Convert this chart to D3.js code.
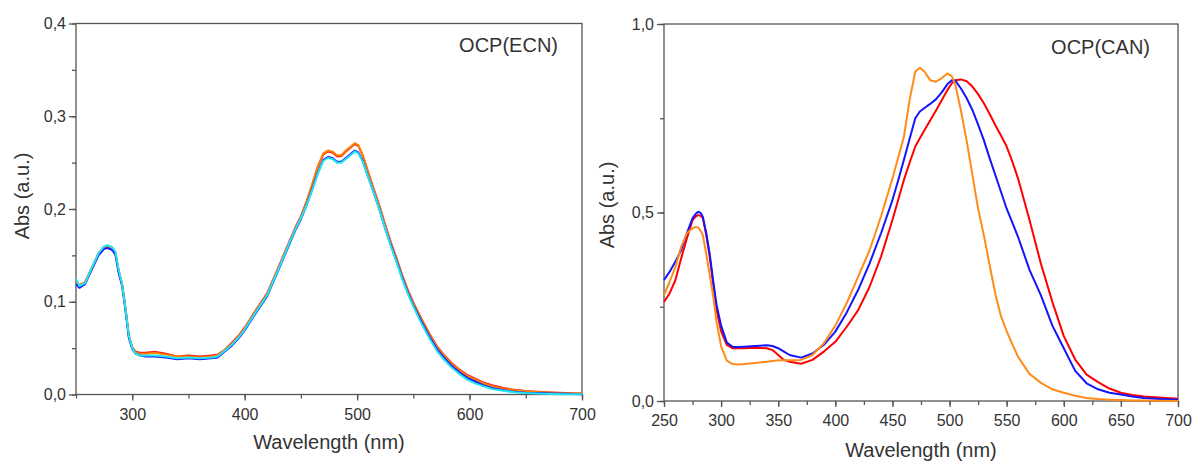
<!DOCTYPE html>
<html><head><meta charset="utf-8">
<script src="https://cdn.jsdelivr.net/npm/d3@7"></script>
<style>
html,body{margin:0;padding:0;background:#fff;}
svg text{font-family:"Liberation Sans",Arial,sans-serif;fill:#333;}
</style></head>
<body><svg id="chart" width="1196" height="464"></svg>
<script>
// ---------- Left panel: OCP(ECN) ----------
const ecnNm = [250,253,258,265,270,275,278,282,285,288,291,294,297,300,303,307,312,320,330,340,350,360,370,376,382,388,395,400,410,420,430,438,445,450,455,460,465,470,474,478,482,486,490,494,498,501,505,510,515,520,525,530,535,540,545,550,557,565,571,577,584,591,598,605,612,620,630,640,650,660,673,686,700];
const ecnRed = [0.122,0.118,0.121,0.139,0.152,0.159,0.160,0.158,0.153,0.133,0.119,0.093,0.063,0.051,0.046,0.045,0.045,0.046,0.044,0.041,0.042,0.041,0.042,0.043,0.048,0.055,0.064,0.072,0.091,0.109,0.137,0.160,0.180,0.192,0.208,0.226,0.245,0.259,0.262,0.261,0.257,0.257,0.262,0.266,0.270,0.268,0.258,0.239,0.221,0.203,0.183,0.164,0.147,0.129,0.113,0.099,0.082,0.064,0.052,0.043,0.034,0.027,0.021,0.017,0.013,0.010,0.007,0.005,0.0038,0.003,0.0022,0.0016,0.0012];
const ecnOrange = [0.121,0.118,0.121,0.139,0.152,0.159,0.160,0.158,0.153,0.133,0.119,0.093,0.063,0.051,0.045,0.044,0.044,0.045,0.043,0.041,0.041,0.040,0.041,0.042,0.048,0.054,0.063,0.071,0.090,0.108,0.136,0.159,0.179,0.191,0.207,0.226,0.246,0.260,0.263,0.262,0.258,0.258,0.263,0.267,0.271,0.269,0.258,0.238,0.220,0.202,0.182,0.163,0.146,0.128,0.112,0.098,0.081,0.063,0.051,0.042,0.033,0.026,0.020,0.016,0.012,0.009,0.006,0.0045,0.0035,0.0026,0.0019,0.0014,0.001];
const ecnBlue = [0.119,0.115,0.119,0.137,0.150,0.157,0.158,0.156,0.151,0.131,0.117,0.091,0.061,0.049,0.044,0.042,0.041,0.041,0.040,0.038,0.039,0.038,0.039,0.040,0.046,0.052,0.061,0.069,0.088,0.106,0.134,0.157,0.177,0.189,0.204,0.221,0.239,0.253,0.256,0.255,0.251,0.251,0.255,0.259,0.263,0.261,0.252,0.234,0.217,0.199,0.179,0.161,0.144,0.126,0.110,0.096,0.079,0.061,0.049,0.040,0.031,0.024,0.018,0.014,0.010,0.007,0.0045,0.003,0.002,0.0015,0.001,0.0007,0.0004];
const ecnCyan = [0.125,0.117,0.120,0.139,0.152,0.160,0.161,0.159,0.154,0.134,0.119,0.093,0.063,0.050,0.044,0.042,0.042,0.042,0.041,0.039,0.040,0.039,0.040,0.041,0.047,0.053,0.062,0.070,0.089,0.107,0.135,0.158,0.178,0.190,0.204,0.220,0.238,0.252,0.255,0.254,0.250,0.250,0.254,0.258,0.262,0.260,0.251,0.234,0.217,0.199,0.179,0.160,0.143,0.125,0.109,0.095,0.077,0.059,0.047,0.038,0.029,0.022,0.016,0.012,0.009,0.006,0.004,0.0025,0.0015,0.001,0.0006,0.0004,0.0002];
const ecnXTicks = [300,400,500,600,700];
const ecnYTicks = [0.0,0.1,0.2,0.3,0.4];

// ---------- Right panel: OCP(CAN) ----------
const canNm = [250,255,260,265,270,275,278,280,282,284,287,290,293,296,300,305,310,315,320,330,340,345,350,355,360,370,380,390,400,410,420,430,440,450,455,460,465,470,474,478,483,488,493,498,502,505,510,515,520,525,530,535,540,545,550,555,560,570,580,590,600,610,620,630,640,650,660,670,680,700];
const canBlue = [0.321,0.343,0.370,0.400,0.445,0.485,0.497,0.502,0.499,0.489,0.445,0.390,0.320,0.255,0.200,0.155,0.144,0.143,0.144,0.146,0.148,0.146,0.140,0.131,0.122,0.115,0.126,0.149,0.184,0.235,0.295,0.365,0.445,0.533,0.585,0.639,0.695,0.750,0.768,0.777,0.788,0.800,0.818,0.840,0.851,0.850,0.829,0.803,0.772,0.733,0.692,0.645,0.600,0.555,0.510,0.473,0.435,0.348,0.280,0.200,0.140,0.080,0.047,0.031,0.022,0.017,0.012,0.008,0.006,0.003];
const canRed = [0.263,0.286,0.321,0.378,0.431,0.480,0.490,0.493,0.491,0.485,0.440,0.383,0.312,0.241,0.185,0.149,0.140,0.140,0.140,0.141,0.140,0.135,0.122,0.109,0.104,0.099,0.109,0.131,0.157,0.197,0.241,0.303,0.383,0.480,0.533,0.586,0.632,0.675,0.697,0.718,0.744,0.770,0.797,0.824,0.843,0.851,0.853,0.848,0.834,0.814,0.790,0.762,0.732,0.704,0.675,0.635,0.590,0.480,0.364,0.263,0.172,0.110,0.070,0.050,0.033,0.022,0.016,0.012,0.010,0.006];
const canOrange = [0.281,0.317,0.356,0.409,0.445,0.458,0.462,0.460,0.452,0.440,0.390,0.335,0.280,0.210,0.145,0.107,0.098,0.097,0.098,0.101,0.104,0.106,0.108,0.108,0.108,0.109,0.122,0.153,0.200,0.260,0.330,0.400,0.490,0.590,0.645,0.700,0.798,0.874,0.884,0.874,0.851,0.847,0.856,0.869,0.862,0.840,0.770,0.690,0.600,0.510,0.440,0.362,0.285,0.225,0.185,0.150,0.117,0.072,0.048,0.031,0.022,0.014,0.008,0.005,0.0035,0.0025,0.0015,0.001,0.0005,0.0];
const canXTicks = [250,300,350,400,450,500,550,600,650,700];
const canYTicks = [0.0,0.5,1.0];

const svg = d3.select("#chart");
const fmt = d => d3.format(".1f")(d).replace(".", ",");

function panel(opt) {
  const g = svg.append("g");
  const x = d3.scaleLinear().domain([250,700]).range([opt.left, opt.right]);
  const y = d3.scaleLinear().domain(opt.yDomain).range([opt.bottom, opt.top]);
  const axisColor = "#555";

  const xMinor = d3.range(250, 700.1, opt.xMinorStep);
  const yMinor = d3.range(opt.yDomain[0], opt.yDomain[1] + 1e-9, opt.yMinorStep);

  const xa = g.append("g").attr("transform", `translate(0,${opt.bottom})`)
    .call(d3.axisBottom(x).tickValues(xMinor).tickSize(4).tickFormat(""));
  const xb = g.append("g").attr("transform", `translate(0,${opt.bottom})`)
    .call(d3.axisBottom(x).tickValues(opt.xTicks).tickSize(6).tickPadding(8).tickFormat(d3.format("d")));
  const ya = g.append("g").attr("transform", `translate(${opt.left},0)`)
    .call(d3.axisLeft(y).tickValues(yMinor).tickSize(4).tickFormat(""));
  const yb = g.append("g").attr("transform", `translate(${opt.left},0)`)
    .call(d3.axisLeft(y).tickValues(opt.yTicks).tickSize(7).tickPadding(3).tickFormat(fmt));
  [xa, xb, ya, yb].forEach(a => {
    a.select(".domain").remove();
    a.selectAll("line").attr("stroke", axisColor).attr("stroke-width", 1.3);
    a.selectAll("text").style("font-size", "16px").attr("fill", "#333");
  });

  g.append("rect").attr("x", opt.left).attr("y", opt.top)
    .attr("width", opt.right - opt.left).attr("height", opt.bottom - opt.top)
    .attr("fill", "none").attr("stroke", axisColor).attr("stroke-width", 1.3);

  const line = d3.line().x((d, i) => x(opt.nm[i])).y(d => y(d));
  opt.series.forEach(s => {
    g.append("path").datum(s.values).attr("d", line)
      .attr("fill", "none").attr("stroke", s.color).attr("stroke-width", s.width || 2)
      .attr("stroke-linejoin", "round");
  });

  g.append("text").attr("x", (opt.left + opt.right) / 2).attr("y", opt.xTitleY)
    .attr("text-anchor", "middle").style("font-size", "20px").text("Wavelength (nm)");
  g.append("text").attr("transform", `translate(${opt.yTitleX},${opt.yTitleY}) rotate(-90)`)
    .attr("text-anchor", "middle").style("font-size", "20px").text("Abs (a.u.)");
  g.append("text").attr("x", opt.labelX).attr("y", opt.labelY)
    .attr("text-anchor", "end").style("font-size", "20px").text(opt.label);
}

panel({
  left: 76, right: 582, top: 23.5, bottom: 394.5, yDomain: [0, 0.4],
  xTicks: ecnXTicks, yTicks: ecnYTicks, xMinorStep: 50, yMinorStep: 0.05,
  nm: ecnNm,
  series: [
    {values: ecnRed, color: "#ff1a1a"},
    {values: ecnOrange, color: "#ff8000"},
    {values: ecnBlue, color: "#1a1aff"},
    {values: ecnCyan, color: "#1ee6f0"}
  ],
  xTitleY: 449, yTitleX: 29, yTitleY: 196, label: "OCP(ECN)", labelX: 558, labelY: 52
});

panel({
  left: 664, right: 1178, top: 24, bottom: 401, yDomain: [0, 1.0],
  xTicks: canXTicks, yTicks: canYTicks, xMinorStep: 25, yMinorStep: 0.25,
  nm: canNm,
  series: [
    {values: canRed, color: "#ff0000"},
    {values: canBlue, color: "#1414ff"},
    {values: canOrange, color: "#ff8c1a"}
  ],
  xTitleY: 457, yTitleX: 614, yTitleY: 205, label: "OCP(CAN)", labelX: 1150, labelY: 54
});
</script></body></html>
